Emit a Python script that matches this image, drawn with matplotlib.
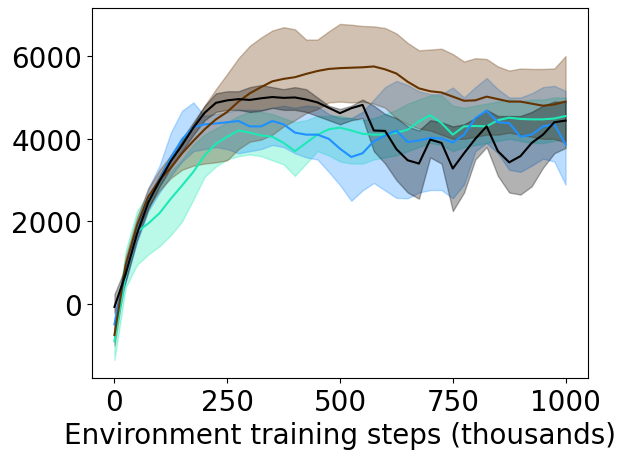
import matplotlib
matplotlib.use("Agg")
import matplotlib.pyplot as plt

# environment steps (thousands)
steps = [0, 25, 50, 75, 100, 125, 150, 175, 200, 225, 250, 275, 300, 325, 350,
         375, 400, 425, 450, 475, 500, 525, 550, 575, 600, 625, 650, 675, 700,
         725, 750, 775, 800, 825, 850, 875, 900, 925, 950, 975, 1000]

brown_mean = [-750, 950, 1900, 2600, 3000, 3300, 3650, 3950, 4230, 4470, 4650, 4900, 5100, 5250,
              5390, 5450, 5490, 5570, 5640, 5690, 5710, 5720, 5730, 5750, 5680, 5580, 5380,
              5220, 5150, 5120, 5020, 4920, 4930, 5020, 4960, 4900, 4900, 4850, 4800, 4830, 4900]
brown_lo = [-1000, 750, 1700, 2350, 2750, 3050, 3250, 3350, 3400, 3430, 3480, 3750, 3930, 3980,
            4100, 4300, 4450, 4620, 4720, 4880, 4900, 4880, 4900, 4850, 4750, 4500, 4350, 4250,
            4200, 4100, 4000, 4000, 4050, 4100, 4100, 4150, 4100, 4050, 4000, 4000, 3900]
brown_hi = [-500, 1150, 2100, 2800, 3250, 3600, 3950, 4350, 4800, 5200, 5570, 5950, 6250, 6450,
            6620, 6700, 6650, 6400, 6400, 6600, 6780, 6760, 6730, 6720, 6680, 6550, 6320, 6140,
            6160, 6180, 6050, 5870, 5950, 5930, 5750, 5650, 5700, 5690, 5690, 5700, 6000]

black_mean = [-70, 730, 1700, 2460, 2980, 3460, 3850, 4270, 4630, 4870, 4930, 4960, 4940, 4980,
              5010, 4990, 5000, 4950, 4880, 4750, 4620, 4740, 4820, 4200, 4190, 3750, 3480, 3400,
              3980, 3900, 3280, 3650, 4000, 4300, 3700, 3430, 3580, 3900, 4100, 4400, 4440]
black_lo = [-220, 550, 1550, 2300, 2850, 3300, 3700, 4100, 4450, 4650, 4700, 4700, 4650, 4680,
            4750, 4700, 4700, 4650, 4550, 4450, 4350, 4450, 4500, 3700, 3400, 3000, 2700, 2550,
            3550, 3400, 2250, 2700, 3500, 3800, 3100, 2700, 2650, 2850, 3300, 3650, 3780]
black_hi = [240, 900, 1850, 2600, 3100, 3600, 4000, 4400, 4800, 5100, 5150, 5150, 5250, 5300,
            5250, 5200, 5250, 5200, 5000, 4800, 4720, 4800, 4950, 4800, 4600, 4500, 4300, 4200,
            4450, 4400, 4300, 4350, 4500, 4700, 4550, 4550, 4550, 4650, 4800, 4900, 4900]

blue_mean = [-490, 800, 1800, 2550, 3000, 3540, 3990, 4280, 4350, 4370, 4400, 4430, 4300, 4300,
             4430, 4350, 4150, 4100, 4100, 4000, 3760, 3560, 3650, 3940, 4080, 4200, 3920, 3960,
             4020, 4010, 3910, 4100, 4500, 4680, 4400, 4380, 4050, 4100, 4300, 4350, 3860]
blue_lo = [-700, 550, 1500, 2250, 2700, 3100, 3450, 3700, 3750, 3800, 3750, 3650, 3700, 3750,
           3850, 3800, 3650, 3550, 3500, 3200, 2880, 2500, 2750, 2930, 2750, 2570, 2560, 2700,
           2760, 2760, 2560, 2900, 3700, 3900, 3650, 3250, 3200, 3350, 3520, 3450, 2890]
blue_hi = [-300, 1000, 2000, 2800, 3350, 4150, 4680, 4880, 4550, 4600, 4650, 4700, 4700, 4700,
           4750, 4800, 4750, 4800, 4780, 4600, 4500, 4500, 4650, 4950, 5250, 5400, 5300, 5150,
           5080, 5080, 5240, 5000, 5250, 5470, 5200, 5000, 5000, 5100, 5250, 5280, 5160]

cyan_mean = [-900, 700, 1750, 1950, 2200, 2550, 2870, 3200, 3600, 3880, 4050, 4200, 4150, 4080,
             4050, 3900, 3700, 3900, 4100, 4230, 4270, 4200, 4120, 4100, 4100, 4150, 4220, 4420,
             4570, 4380, 4100, 4300, 4310, 4300, 4450, 4510, 4480, 4470, 4470, 4490, 4550]
cyan_lo = [-1350, 400, 950, 1200, 1400, 1670, 2000, 2530, 3080, 3330, 3500, 3580, 3620, 3580,
           3480, 3380, 3100, 3400, 3700, 3600, 3450, 3400, 3400, 3500, 3550, 3600, 3700, 3800,
           3900, 3850, 3700, 3800, 3850, 3900, 3950, 4000, 3950, 3900, 3900, 3950, 4000]
cyan_hi = [-600, 1300, 2250, 2650, 2950, 3200, 3500, 3850, 4100, 4250, 4400, 4550, 4650, 4650,
           4600, 4500, 4400, 4450, 4550, 4550, 4550, 4500, 4450, 4500, 4600, 4700, 4850, 4950,
           5050, 5050, 4800, 4750, 4800, 4850, 4900, 4950, 4900, 4950, 4950, 5000, 5000]

series = [
    (cyan_mean, cyan_lo, cyan_hi, '#1de9b6'),
    (blue_mean, blue_lo, blue_hi, '#1e90ff'),
    (brown_mean, brown_lo, brown_hi, '#663300'),
    (black_mean, black_lo, black_hi, 'black'),
]

fig, ax = plt.subplots(figsize=(6.25, 4.6), dpi=100)
fig.subplots_adjust(left=0.147, right=0.941, top=0.980, bottom=0.176)

for mean, lo, hi, c in series:
    ax.fill_between(steps, lo, hi, color=c, alpha=0.3)
for mean, lo, hi, c in series:
    ax.plot(steps, mean, color=c, linewidth=1.5)

ax.set_xlim(-50, 1050)
ax.set_ylim(-1790, 7160)
ax.set_xticks([0, 250, 500, 750, 1000])
ax.set_yticks([0, 2000, 4000, 6000])
ax.tick_params(labelsize=20)
ax.set_xlabel('Environment training steps (thousands)', fontsize=20)

fig.savefig('out.png', dpi=100)
